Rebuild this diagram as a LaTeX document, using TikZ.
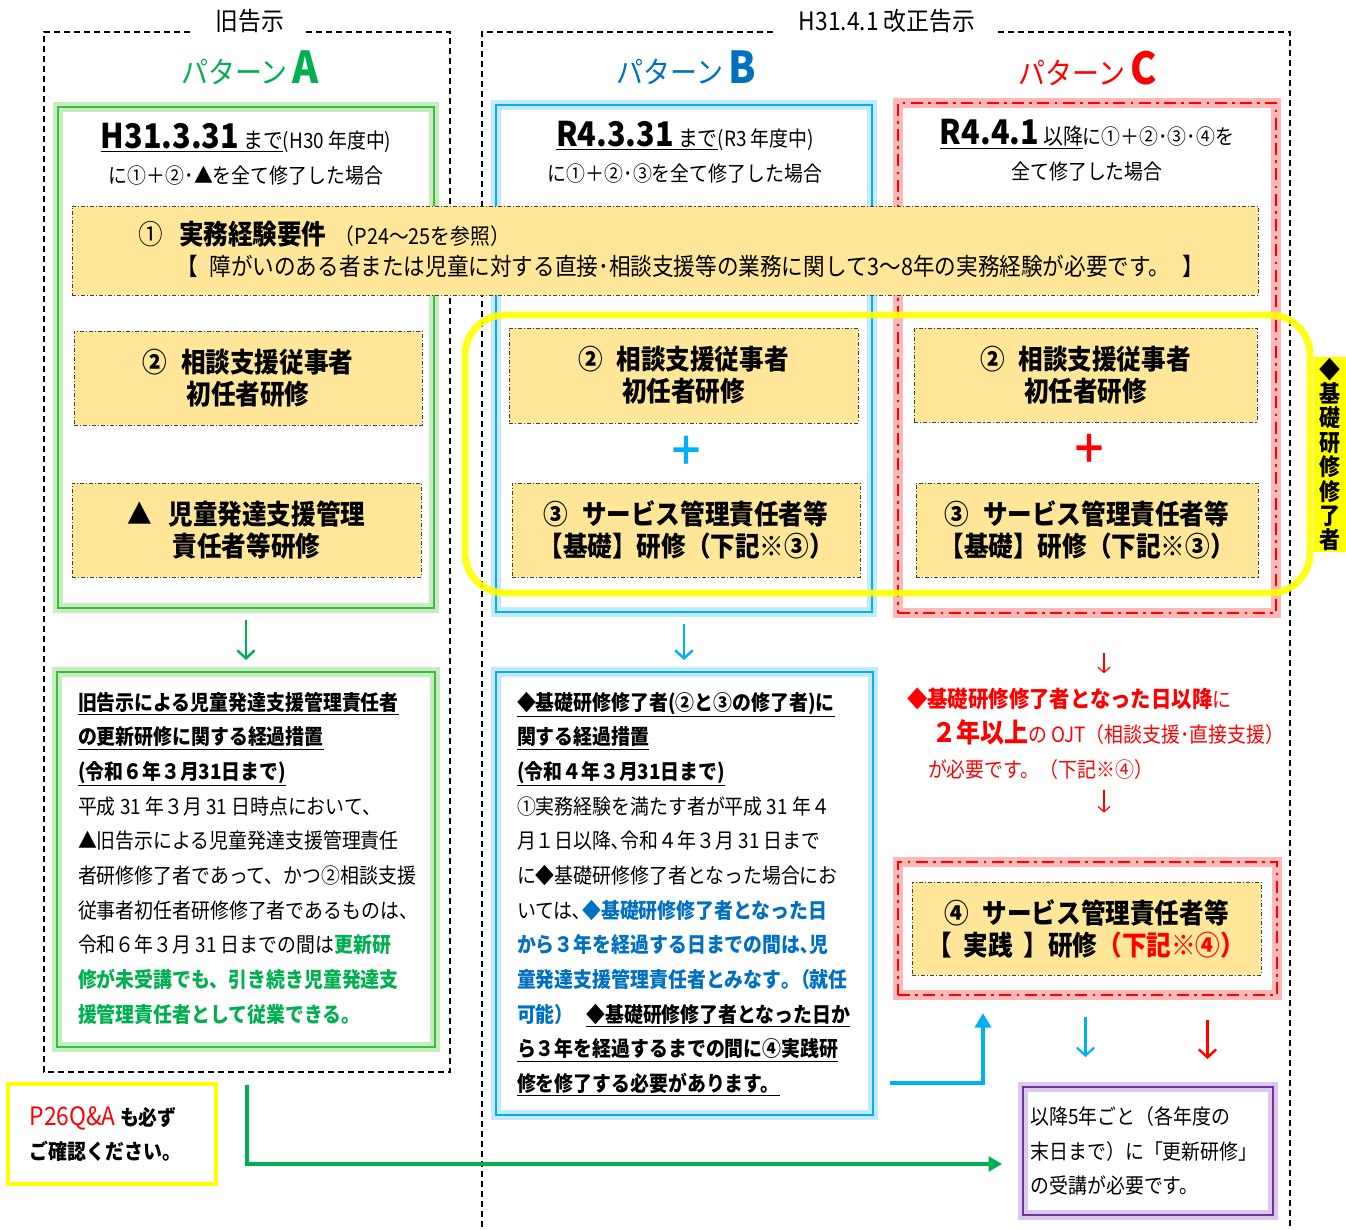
\documentclass[tikz,border=0pt]{standalone}
\usepackage{fontspec}
\setmainfont[FakeStretch=0.9]{Noto Sans CJK JP}
\usetikzlibrary{arrows.meta,fit,calc}

\definecolor{trainfill}{HTML}{FFE699}
\definecolor{patgreen}{HTML}{00B050}
\definecolor{framegreen}{HTML}{3CBE3C}
\definecolor{glowgreen}{HTML}{C6EDC0}
\definecolor{patblue}{HTML}{0070C0}
\definecolor{framecyan}{HTML}{00B0F0}
\definecolor{glowcyan}{HTML}{C4E9FB}
\definecolor{glowred}{HTML}{FFB8B8}
\definecolor{framepurple}{HTML}{7030A0}
\definecolor{glowpurple}{HTML}{DCC8EA}
\definecolor{kisoyellow}{HTML}{FFFF00}

\newcommand{\setfs}[2]{\fontsize{#1}{#2}\selectfont}

\begin{document}
\begin{tikzpicture}[x=0.75pt, y=-0.75pt,
    every node/.style={inner sep=0pt, outer sep=0pt},
    groupline/.style={draw, line width=0.9pt, dash pattern=on 4.5pt off 3pt},
    grouplabel/.style={font=\setfs{19}{22}},
    pattitle/.style={font=\setfs{22.5}{26}},
    headtext/.style={font=\setfs{15.75}{26}, align=center},
    greenframe/.style={draw=framegreen, line width=1.6pt, preaction={draw=glowgreen, line width=7pt}},
    cyanframe/.style={draw=framecyan, line width=1.4pt, preaction={draw=glowcyan, line width=7pt}},
    redframe/.style={draw=red, line width=2.2pt, dash pattern=on 9pt off 4pt on 2pt off 4pt,
      preaction={draw=glowred, solid, line width=7pt}},
    purpleframe/.style={draw=framepurple, line width=1.4pt, preaction={draw=glowpurple, line width=7pt}},
    trainbox/.style={draw=black!75, fill=trainfill, line width=0.6pt,
      dash pattern=on 3pt off 1.5pt on 0.8pt off 1.5pt},
    traintext/.style={align=center, font=\setfs{20.5}{24}\bfseries},
    notetext/.style={font=\setfs{15.75}{26}, align=left, anchor=north west},
    downarrow/.style={line width=1.8pt, -{Straight Barb[length=6pt, width=13pt]}},
    thinarrow/.style={draw=red, line width=0.9pt, -{Straight Barb[length=4pt, width=9pt]}},
  ]
  \useasboundingbox (0,0) rectangle (1346,1229);

  % old and revised notice frames
  \draw[groupline] (190,32) -- (44,32) -- (44,1072) -- (450,1072) -- (450,32) -- (305,32);
  \draw[groupline] (773,32) -- (482,32) -- (482,1229);
  \draw[groupline] (998,32) -- (1290,32) -- (1290,1229);
  \node[grouplabel] (oldLabel) at (250,21) {旧告示};
  \node[grouplabel] (newLabel) at (887,21) {H31.4.1 改正告示};

  \node[pattitle, text=patgreen] (titleA) at (250,68) {パターン\,{\setfs{33}{33}\bfseries A}};
  \node[pattitle, text=patblue] (titleB) at (686,68) {パターン\,{\setfs{33}{33}\bfseries B}};
  \node[pattitle, text=red] (titleC) at (1088,68) {パターン\,{\setfs{33}{33}\bfseries C}};

  % pattern frames
  \node[greenframe, fit={(58,107)(434,608)}] (frameA) {};
  \node[cyanframe, fit={(496,105)(872,612)}] (frameB) {};
  \node[redframe, fit={(898,103)(1276,613)}] (frameC) {};

  \node[headtext] (headA) at (246,154)
    {\underline{{\setfs{25.5}{26}\bfseries H31.3.31} {\setfs{16.5}{26}まで}}(H30 年度中)\\に①＋②･▲を全て修了した場合};
  \node[headtext] (headB) at (685,152)
    {\underline{{\setfs{25.5}{26}\bfseries R4.3.31} {\setfs{16.5}{26}まで}}(R3 年度中)\\に①＋②･③を全て修了した場合};
  \node[headtext] (headC) at (1087,150)
    {\underline{{\setfs{25.5}{26}\bfseries R4.4.1} {\setfs{16.5}{26}以降}}に①＋②･③･④を\\全て修了した場合};

  \node[draw=kisoyellow, draw opacity=0.9, line width=5.2pt, rounded corners=30pt,
    fit={(465,315)(1310,593)}] (kisoGroup) {};

  % requirement 1
  \node[trainbox, fit={(72,206)(1258,295)}] (req1) {};
  \node[anchor=west, font=\setfs{20.5}{24}] (req1a) at (138,234)
    {①\hspace{0.6em}{\bfseries 実務経験要件}\hspace{0.3em}{\setfs{16.5}{24}（P24～25を参照）}};
  \node[anchor=west, font=\setfs{18}{24}] (req1b) at (176,266)
    {【\hspace{0.5em}障がいのある者または児童に対する直接･相談支援等の業務に関して3～8年の実務経験が必要です。\hspace{0.5em}】};

  % training boxes
  \node[trainbox, fit={(74,331)(422,425)}] (a2) {};
  \node[traintext] (a2text) at (a2) {②\hspace{0.5em}相談支援従事者\\初任者研修};
  \node[trainbox, fit={(72,483)(421,577)}] (a3) {};
  \node[traintext] (a3text) at (a3) {▲\hspace{0.6em}児童発達支援管理\\責任者等研修};
  \node[trainbox, fit={(509,328)(858,423)}] (b2) {};
  \node[traintext] (b2text) at (b2) {②\hspace{0.5em}相談支援従事者\\初任者研修};
  \node[trainbox, fit={(512,483)(860,577)}] (b3) {};
  \node[traintext] (b3text) at (b3) {③\hspace{0.5em}サービス管理責任者等\\【基礎】研修（下記※③）};
  \node[trainbox, fit={(914,328)(1257,422)}] (c2) {};
  \node[traintext] (c2text) at (c2) {②\hspace{0.5em}相談支援従事者\\初任者研修};
  \node[trainbox, fit={(916,483)(1258,577)}] (c3) {};
  \node[traintext] (c3text) at (c3) {③\hspace{0.5em}サービス管理責任者等\\【基礎】研修（下記※③）};
  \node[text=framecyan, font=\setfs{30}{30}\bfseries] (plusB) at (686,451) {＋};
  \node[text=red, font=\setfs{30}{30}\bfseries] (plusC) at (1089,449) {＋};

  \node[fill=kisoyellow, fit={(1314,357)(1346,552)}] (kisoLabel) {};
  \node[align=center, font=\setfs{17.5}{18.3}\bfseries] (kisoText) at (kisoLabel) {◆\\基\\礎\\研\\修\\修\\了\\者};

  % transitional measures
  \draw[downarrow, draw=patgreen, shorten <=9pt, shorten >=9pt] (frameA.south) -- (frameA.south |- 0,672);
  \draw[downarrow, draw=framecyan, shorten <=9pt, shorten >=9pt] (frameB.south) -- (frameB.south |- 0,672);

  \node[greenframe, fit={(57,672)(435,1047)}] (noteA) {};
  \node[notetext] (noteAtext) at (78,692) {%
    {\bfseries\underline{旧告示による児童発達支援管理責任者}}\\
    {\bfseries\underline{の更新研修に関する経過措置}}\\
    {\bfseries\underline{(令和６年３月31日まで)}}\\
    平成 31 年３月 31 日時点において、\\
    ▲旧告示による児童発達支援管理責任\\
    者研修修了者であって、かつ②相談支援\\
    従事者初任者研修修了者であるものは、\\
    令和６年３月 31 日までの間は{\color{patgreen}\bfseries 更新研}\\
    {\color{patgreen}\bfseries 修が未受講でも、引き続き児童発達支}\\
    {\color{patgreen}\bfseries 援管理責任者として従業できる。}};

  \node[cyanframe, fit={(496,672)(873,1115)}] (noteB) {};
  \node[notetext] (noteBtext) at (517,692) {%
    {\bfseries\underline{◆基礎研修修了者(②と③の修了者)に}}\\
    {\bfseries\underline{関する経過措置}}\\
    {\bfseries\underline{(令和４年３月31日まで)}}\\
    ①実務経験を満たす者が平成 31 年４\\
    月１日以降､令和４年３月 31 日まで\\
    に◆基礎研修修了者となった場合にお\\
    いては､{\color{patblue}\bfseries ◆基礎研修修了者となった日}\\
    {\color{patblue}\bfseries から３年を経過する日までの間は､児}\\
    {\color{patblue}\bfseries 童発達支援管理責任者とみなす｡（就任}\\
    {\color{patblue}\bfseries 可能）}\hspace{0.6em}{\bfseries\underline{◆基礎研修修了者となった日か}}\\
    {\bfseries\underline{ら３年を経過するまでの間に④実践研}}\\
    {\bfseries\underline{修を修了する必要があります。}}};

  \node[notetext, text=red] (ojtNote) at (907,688) {%
    {\setfs{17}{26}\bfseries ◆基礎研修修了者となった日以降}に\\
    \hspace*{1.2em}{\setfs{20}{26}\bfseries ２年以上}の OJT（相談支援･直接支援）\\
    \hspace*{1em}が必要です。（下記※④）};

  \node[redframe, fit={(898,862)(1277,995)}] (practOuter) {};
  \node[trainbox, fit={(912,882)(1261,975)}] (pract) {};
  \node[traintext] (practText) at (pract)
    {④\hspace{0.5em}サービス管理責任者等\\【\hspace{0.4em}実践\hspace{0.4em}】研修{\color{red}（下記※④）}};

  \draw[thinarrow, shorten <=30pt, shorten >=11pt] ([xshift=12.75pt]frameC.south) -- ([xshift=12.75pt]frameC.south |- ojtNote.north);
  \draw[thinarrow, shorten <=8pt, shorten >=37pt] ([xshift=12.75pt]frameC.south |- ojtNote.south) -- ([xshift=12.75pt]frameC.south |- practOuter.north);

  % renewal
  \node[purpleframe, fit={(1023,1087)(1273,1215)}] (renew) {};
  \node[align=left, font=\setfs{15.75}{26}] (renewText) at ([xshift=-3pt]renew.center)
    {以降5年ごと（各年度の\\末日まで）に「更新研修」\\の受講が必要です。};

  \node[draw=kisoyellow, line width=3pt, fit={(8,1084)(216,1184)}] (qaNote) {};
  \node[align=left, font=\setfs{15.75}{25}\bfseries] (qaText) at ([xshift=-5pt]qaNote.center)
    {{\color{red}\mdseries\setfs{19}{25}P26Q\&A} も必ず\\ご確認ください。};

  \draw[line width=3pt, draw=framecyan, -{Triangle[length=11pt, width=12pt]}]
    ($(noteB.south east)+(17,-32)$) -| ($(practOuter.south west)+(85,18)$);
  \draw[line width=1.6pt, draw=framecyan, -{Straight Barb[length=6pt, width=13pt]}]
    ($(practOuter.south)+(-2,22)$) -- ($(practOuter.south)+(-2,62)$);
  \draw[line width=1.8pt, draw=red, -{Straight Barb[length=6pt, width=13pt]}]
    ($(practOuter.south)+(120,25)$) -- ($(practOuter.south)+(120,64)$);
  \draw[line width=2.4pt, draw=patgreen, -{Triangle[length=10pt, width=11pt]}]
    ($(noteA.south)+(1,38)$) |- ($(renew.west)+(-21,13)$);
\end{tikzpicture}
\end{document}
